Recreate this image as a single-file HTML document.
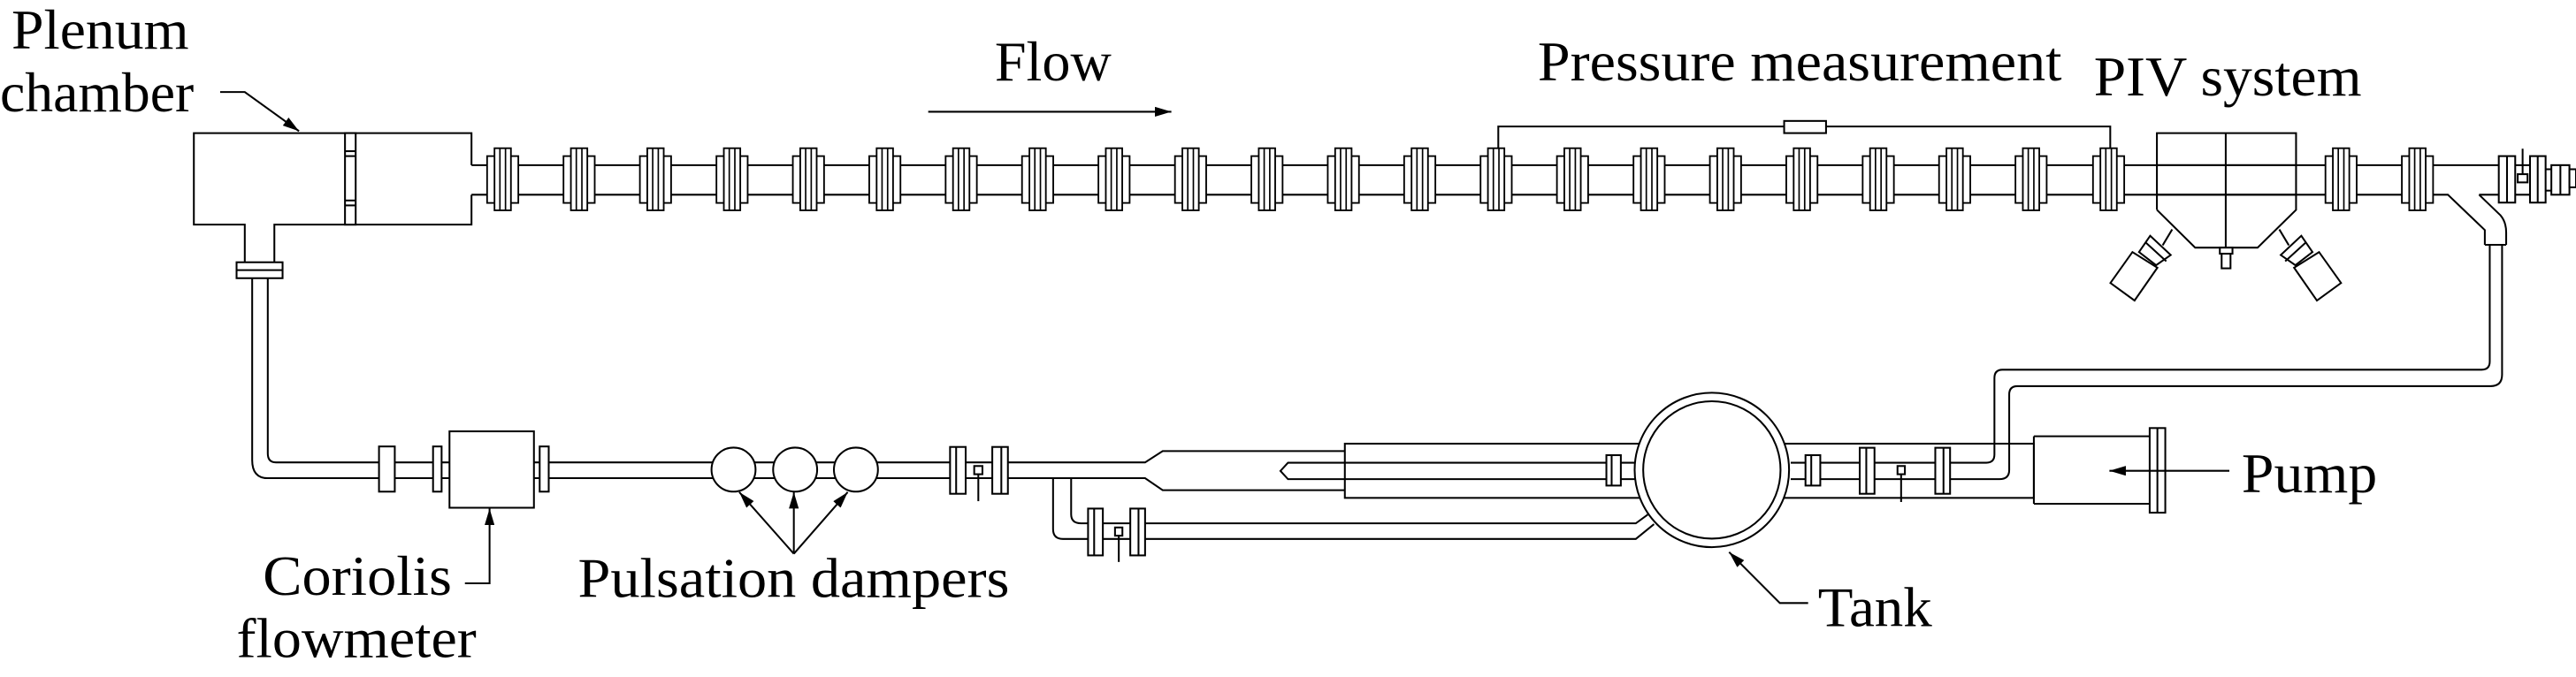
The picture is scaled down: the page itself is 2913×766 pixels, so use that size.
<!DOCTYPE html>
<html><head><meta charset="utf-8"><style>
html,body{margin:0;padding:0;background:#fff;}
svg{display:block;}
</style></head><body>
<svg width="2913" height="766" viewBox="0 0 1568 412" preserveAspectRatio="none" xmlns="http://www.w3.org/2000/svg">
<defs>
<marker id="ah" markerWidth="10" markerHeight="6" refX="10" refY="3" orient="auto" markerUnits="userSpaceOnUse"><path d="M0,0 L10,3 L0,6 z" fill="#000"/></marker>
<g id="fl">
<rect x="-9.5" y="-5.5" width="19" height="28.5" fill="#fff" stroke="#000" stroke-width="1"/>
<rect x="-5" y="-10.3" width="10" height="37.8" fill="#fff" stroke="#000" stroke-width="1"/>
<line x1="-1.7" y1="-10.3" x2="-1.7" y2="27.5" stroke="#000" stroke-width="0.9"/>
<line x1="1.7" y1="-10.3" x2="1.7" y2="27.5" stroke="#000" stroke-width="0.9"/>
</g>
</defs>
<g fill="none" stroke="#000" stroke-width="1.1">
<path d="M134,56 H149 L182,79.8" marker-end="url(#ah)"/>
<line x1="565" y1="68" x2="713" y2="68" marker-end="url(#ah)"/>
<path d="M287,100.5 V81 H118 V136.7 H149 V159.6 M167,159.6 V136.7 H287 V118.5"/>
<rect x="210" y="81" width="6.5" height="55.7" fill="#fff"/>
<line x1="210" y1="92" x2="216.5" y2="92"/><line x1="210" y1="95" x2="216.5" y2="95"/>
<line x1="210" y1="122" x2="216.5" y2="122"/><line x1="210" y1="125" x2="216.5" y2="125"/>
<rect x="144" y="159.6" width="28" height="9.7" fill="#fff"/>
<line x1="144" y1="164.4" x2="172" y2="164.4"/>
<line x1="287" y1="100.5" x2="1521" y2="100.5"/>
<path d="M287,118.5 H1490 L1512.5,140 V149"/>
<path d="M1509,118.5 L1522,131 Q1525.5,135 1525.5,141.5 V149"/>
<line x1="1509" y1="118.5" x2="1521" y2="118.5"/>
<line x1="1512.5" y1="149" x2="1525.5" y2="149"/>
<path d="M912,90 V77 H1284.5 V90"/>
<rect x="1086" y="73.6" width="25.5" height="7.4" fill="#fff"/>
<path d="M1515.5,149 V220 Q1515.5,225 1510.5,225 H1219 Q1214,225 1214,230 V276.6 Q1214,281.6 1209,281.6 H1090"/>
<path d="M1523,149 V228 Q1523,235 1516,235 H1228 Q1223,235 1223,240 V286 Q1223,291.6 1217,291.6 H1090"/>
<path d="M153.5,169.3 V280 Q153.5,291 163,291 H273.6"/>
<path d="M163,169.3 V276 Q163,281.4 168,281.4 H273.6"/>
<path d="M325,281.4 H697 L707.7,274.5 H818.6"/>
<path d="M325,291 H697 L707.7,298.3 H818.6"/>
<rect x="273.6" y="262.5" width="51.4" height="46.5" fill="#fff"/>
<rect x="230.7" y="271.7" width="9.6" height="27.5" fill="#fff"/>
<rect x="263.6" y="271.7" width="5.2" height="27.5" fill="#fff"/>
<rect x="328.5" y="271.7" width="5.5" height="27.5" fill="#fff"/>
<circle cx="446.5" cy="285.8" r="13.4" fill="#fff"/>
<circle cx="484" cy="285.8" r="13.4" fill="#fff"/>
<circle cx="521" cy="285.8" r="13.4" fill="#fff"/>
<line x1="483.2" y1="337" x2="450" y2="299.5" marker-end="url(#ah)"/>
<line x1="483.2" y1="337" x2="483.2" y2="299.5" marker-end="url(#ah)"/>
<line x1="483.2" y1="337" x2="516" y2="299.5" marker-end="url(#ah)"/>
<path d="M283,355 H298 V309.5" marker-end="url(#ah)"/>
<rect x="818.6" y="270" width="419.4" height="33"/>
<path d="M1000,281.6 H784 L779.4,286.6 L784,291.6 H1000"/>
<path d="M641,291 V322 Q641,328 647,328 H995.7 L1006.8,319"/>
<path d="M652,291 V313 Q652,318.5 658,318.5 H995.7 L1004.6,312"/>
<circle cx="1042" cy="286" r="47" fill="#fff"/>
<circle cx="1042" cy="286" r="41.8"/>
<path d="M1100.6,367 H1083.4 L1052.5,336" marker-end="url(#ah)"/>
<path d="M1238,265.5 H1308.5 M1238,306.6 H1308.5 M1238,265.5 V306.6"/>
<rect x="1308.5" y="260.5" width="9.5" height="51.5" fill="#fff"/>
<line x1="1313.2" y1="260.5" x2="1313.2" y2="312"/>
<line x1="1357" y1="286.5" x2="1284" y2="286.5" marker-end="url(#ah)"/>
<path d="M1312.9,127.7 V81 H1397.6 V127.7 L1374.2,150.7 H1336.2 L1312.9,127.7"/>
<line x1="1354.8" y1="81" x2="1354.8" y2="150.7"/>
<line x1="1312.9" y1="100.5" x2="1397.6" y2="100.5"/>
<line x1="1312.9" y1="118.5" x2="1397.6" y2="118.5"/>
<rect x="1351.2" y="150.7" width="7.7" height="3.7" fill="#fff"/>
<rect x="1352.3" y="154.4" width="5.4" height="8.9" fill="#fff"/>
<g id="cam">
<line x1="1322.2" y1="139.6" x2="1316.4" y2="149.3"/>
<polygon points="1302,153.4 1308.8,143.5 1321.3,155.2 1312.4,161.4" fill="#fff"/>
<line x1="1306" y1="147.5" x2="1318.6" y2="159"/>
<polygon points="1284.6,172.2 1298,153.4 1313.2,162.9 1299.3,182.9" fill="#fff"/>
</g>
<use href="#cam" transform="translate(2709.6,0) scale(-1,1)"/>
<rect x="1521" y="95" width="10" height="28.3" fill="#fff"/>
<line x1="1526" y1="95" x2="1526" y2="123.3"/>
<rect x="1540" y="95" width="9.5" height="28.3" fill="#fff"/>
<line x1="1544.7" y1="95" x2="1544.7" y2="123.3"/>
<line x1="1531" y1="100.5" x2="1540" y2="100.5"/><line x1="1531" y1="118.5" x2="1540" y2="118.5"/>
<line x1="1549.5" y1="103" x2="1553" y2="103"/><line x1="1549.5" y1="116" x2="1553" y2="116"/>
<rect x="1553" y="100.5" width="11" height="18" fill="#fff"/>
<line x1="1558.5" y1="100.5" x2="1558.5" y2="118.5"/>
<rect x="1564" y="103" width="4" height="11" fill="#fff"/>
<line x1="1535.5" y1="90.5" x2="1535.5" y2="106"/>
<rect x="1532.5" y="106" width="6" height="5"/>
</g>
<use href="#fl" x="306" y="100.5"/><use href="#fl" x="352.5" y="100.5"/><use href="#fl" x="399" y="100.5"/><use href="#fl" x="445.6" y="100.5"/><use href="#fl" x="492.1" y="100.5"/><use href="#fl" x="538.6" y="100.5"/><use href="#fl" x="585.1" y="100.5"/><use href="#fl" x="631.6" y="100.5"/><use href="#fl" x="678.1" y="100.5"/><use href="#fl" x="724.7" y="100.5"/><use href="#fl" x="771.2" y="100.5"/><use href="#fl" x="817.7" y="100.5"/><use href="#fl" x="864.2" y="100.5"/><use href="#fl" x="910.7" y="100.5"/><use href="#fl" x="957.2" y="100.5"/><use href="#fl" x="1003.8" y="100.5"/><use href="#fl" x="1050.3" y="100.5"/><use href="#fl" x="1096.8" y="100.5"/><use href="#fl" x="1143.3" y="100.5"/><use href="#fl" x="1189.8" y="100.5"/><use href="#fl" x="1236.3" y="100.5"/><use href="#fl" x="1283.5" y="100.5"/><use href="#fl" x="1425" y="100.5"/><use href="#fl" x="1471.5" y="100.5"/>
<g fill="#fff" stroke="#000" stroke-width="1.1">
<rect x="578.3" y="272" width="9.5" height="28.5"/><line x1="582" y1="272" x2="582" y2="300.5"/>
<rect x="604" y="272" width="9.5" height="28.5"/><line x1="609.5" y1="272" x2="609.5" y2="300.5"/>
<rect x="593" y="283.6" width="5" height="5"/><line x1="595.5" y1="288.6" x2="595.5" y2="305"/>
<rect x="662.3" y="309.5" width="9" height="28.5"/><line x1="666" y1="309.5" x2="666" y2="338"/>
<rect x="688" y="309.5" width="9" height="28.5"/><line x1="693" y1="309.5" x2="693" y2="338"/>
<rect x="678.7" y="321" width="4.5" height="5"/><line x1="681" y1="326" x2="681" y2="342"/>
<rect x="977.8" y="277" width="8.8" height="18.5"/><line x1="981" y1="277" x2="981" y2="295.5"/>
<rect x="1099" y="277" width="9" height="18.5"/><line x1="1102.5" y1="277" x2="1102.5" y2="295.5"/>
<rect x="1132" y="272.5" width="9" height="28"/><line x1="1136" y1="272.5" x2="1136" y2="300.5"/>
<rect x="1178" y="272.5" width="9" height="28"/><line x1="1183" y1="272.5" x2="1183" y2="300.5"/>
<rect x="1155" y="283.6" width="4.5" height="5"/><line x1="1157.2" y1="288.6" x2="1157.2" y2="305.5"/>
</g>
<g font-family="'Liberation Serif', 'Times New Roman', serif" font-size="34" fill="#000">
<text x="7" y="29.6" textLength="108" lengthAdjust="spacingAndGlyphs">Plenum</text>
<text x="0" y="67.8" textLength="118" lengthAdjust="spacingAndGlyphs">chamber</text>
<text x="605.5" y="49" textLength="71" lengthAdjust="spacingAndGlyphs">Flow</text>
<text x="936" y="49" textLength="319" lengthAdjust="spacingAndGlyphs">Pressure measurement</text>
<text x="1274.5" y="58.2" textLength="163" lengthAdjust="spacingAndGlyphs">PIV system</text>
<text x="160" y="362" textLength="115" lengthAdjust="spacingAndGlyphs">Coriolis</text>
<text x="144" y="400" textLength="146" lengthAdjust="spacingAndGlyphs">flowmeter</text>
<text x="351.8" y="363.3" textLength="262.6" lengthAdjust="spacingAndGlyphs">Pulsation dampers</text>
<text x="1106.6" y="381" textLength="69.4" lengthAdjust="spacingAndGlyphs">Tank</text>
<text x="1364.5" y="299.6" textLength="82.5" lengthAdjust="spacingAndGlyphs">Pump</text>
</g>
</svg>
</body></html>
